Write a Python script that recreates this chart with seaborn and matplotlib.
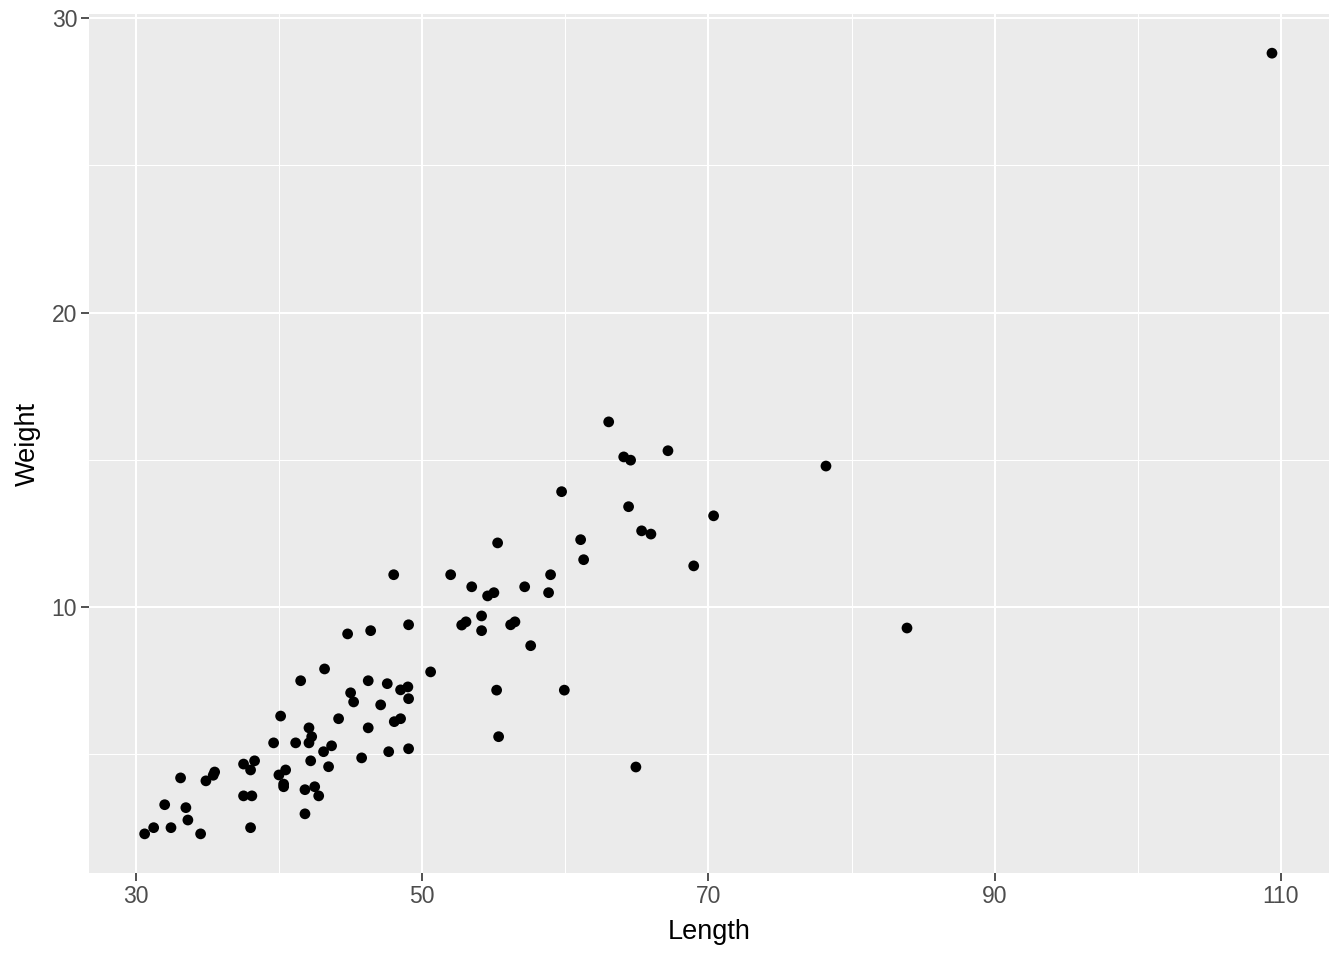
import numpy as np
import pandas as pd
import seaborn as sns
import matplotlib.pyplot as plt
from matplotlib.ticker import MultipleLocator

# Data
length = [41.51, 40.11, 39.62, 41.16, 38.29, 37.52, 38.01, 35.50, 35.40, 34.89,
          33.12, 40.46, 39.99, 40.32, 40.32, 41.81, 37.52, 38.10, 32.01, 33.49,
          33.63, 31.24, 32.45, 38.01, 30.61, 34.52, 41.81, 43.18, 46.23, 50.59,
          47.56, 48.49, 49.00, 49.05, 45.00, 45.21, 47.10, 44.16, 48.05, 48.49,
          46.23, 42.09, 42.28, 42.09, 43.67, 43.11, 49.05, 47.66, 45.77, 42.21,
          43.46, 42.49, 42.77, 48.01, 44.79, 46.40, 49.05, 55.27, 61.07, 61.28,
          51.99, 58.97, 53.46, 57.16, 54.57, 55.01, 58.83, 54.15, 52.76, 53.06,
          54.15, 56.18, 56.48, 57.58, 55.20, 59.93, 55.34, 63.03, 64.08, 64.56,
          67.17, 59.74, 64.42, 70.36, 65.33, 65.98, 68.97, 78.21, 83.87, 109.37,
          64.93]
weight = [7.50, 6.30, 5.39, 5.39, 4.78, 4.67, 4.47, 4.40, 4.29, 4.10,
          4.20, 4.47, 4.30, 3.99, 3.90, 3.80, 3.59, 3.59, 3.29, 3.19,
          2.77, 2.51, 2.51, 2.51, 2.30, 2.30, 2.98, 7.90, 7.50, 7.80,
          7.40, 7.19, 7.29, 6.89, 7.09, 6.78, 6.68, 6.21, 6.11, 6.21,
          5.90, 5.90, 5.60, 5.39, 5.29, 5.09, 5.19, 5.09, 4.88, 4.78,
          4.58, 3.90, 3.59, 11.10, 9.09, 9.20, 9.40, 12.18, 12.29, 11.61,
          11.10, 11.10, 10.69, 10.69, 10.38, 10.49, 10.49, 9.70, 9.39, 9.50,
          9.20, 9.40, 9.50, 8.69, 7.18, 7.18, 5.60, 16.29, 15.10, 14.99,
          15.31, 13.92, 13.41, 13.10, 12.59, 12.48, 11.40, 14.79, 9.29, 28.81,
          4.57]

x_ticks = [30, 50, 70, 90, 110]
y_ticks = [10, 20, 30]

df = pd.DataFrame({"Length": length, "Weight": weight})

# ggplot2 theme_grey look
sns.set_theme(style="darkgrid", rc={
    "axes.facecolor": "#EBEBEB",
    "grid.color": "white",
    "axes.edgecolor": "#EBEBEB",
    "xtick.color": "#333333",
    "ytick.color": "#333333",
    "xtick.labelcolor": "#4D4D4D",
    "ytick.labelcolor": "#4D4D4D",
    "xtick.bottom": True,
    "ytick.left": True,
})
plt.rcParams["font.family"] = ["Liberation Sans", "DejaVu Sans"]

fig, ax = plt.subplots(figsize=(13.44, 9.6), dpi=100)
fig.subplots_adjust(left=0.0662, right=0.9888, bottom=0.0906, top=0.9854)

sns.scatterplot(data=df, x="Length", y="Weight", color="black",
                edgecolor="none", s=60, ax=ax, zorder=3)

ax.set_xlim(26.72, 113.35)
ax.set_ylim(0.97, 30.14)
ax.set_xticks(x_ticks)
ax.set_yticks(y_ticks)
ax.xaxis.set_minor_locator(MultipleLocator(10))
ax.yaxis.set_minor_locator(MultipleLocator(5))
ax.grid(which="major", color="white", linewidth=1.5)
ax.grid(which="minor", color="white", linewidth=0.75)
ax.set_axisbelow(True)
for s in ax.spines.values():
    s.set_visible(False)

ax.tick_params(axis="both", which="major", length=5.5, width=1.2,
               labelsize=16.5, pad=3)
ax.tick_params(axis="both", which="minor", length=0)
ax.set_xlabel("Length", fontsize=19.5, color="black", labelpad=8)
ax.set_ylabel("Weight", fontsize=19.5, color="black", labelpad=8)

fig.savefig("out.png", dpi=100)
